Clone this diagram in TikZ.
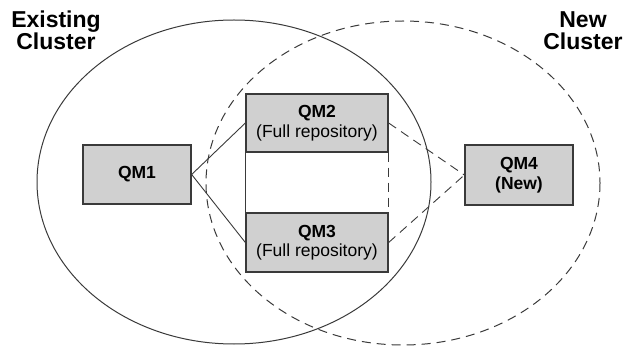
\documentclass[tikz,border=0pt]{standalone}
\usepackage{fontspec}
\setmainfont{Liberation Sans}
\definecolor{boxfill}{HTML}{D0D0D0}
\definecolor{linegray}{HTML}{3A3A3A}
\begin{document}
\begin{tikzpicture}[x=1pt,y=-1pt,
  qmbox/.style={draw=linegray,line width=1.3pt,fill=boxfill,align=center,inner sep=0pt,
    font=\fontsize{17.5}{19.5}\selectfont},
  clusterlabel/.style={align=center,inner sep=0pt,font=\fontsize{23}{22}\selectfont\bfseries},
  link/.style={draw=linegray,line width=0.9pt},
  dashlink/.style={draw=linegray,line width=0.9pt,dash pattern=on 9pt off 6pt},
  cluster/.style={draw=linegray,line width=1pt}]
\useasboundingbox (0,0) rectangle (626,347);
% clusters
\draw[cluster] (234,182) ellipse [x radius=197, y radius=162];
\draw[cluster,dash pattern=on 9pt off 6pt] (403,183) ellipse [x radius=197, y radius=162];
\node[clusterlabel,anchor=base] (existing) at (56,50) {Existing\\Cluster};
\node[clusterlabel,anchor=base] (new) at (583,50) {New\\Cluster};
% boxes
\node[qmbox,minimum width=108pt,minimum height=59pt] (qm1) at (137,174.5) {\bfseries QM1};
\node[qmbox,minimum width=142pt,minimum height=58pt] (qm2) at (317,123) {\bfseries QM2\\(Full repository)};
\node[qmbox,minimum width=142pt,minimum height=59pt] (qm3) at (317,242.5) {\bfseries QM3\\(Full repository)};
\node[qmbox,minimum width=108pt,minimum height=60pt] (qm4) at (519,175) {\bfseries QM4\\\bfseries (New)};
% connectors
\draw[link] (qm1.east) -- (qm2.west);
\draw[link] (qm1.east) -- (qm3.west);
\draw[link] (qm2.south west) -- (qm3.north west);
\draw[dashlink] (qm2.south east) -- (qm3.north east);
\draw[dashlink] (qm2.east) -- (qm4.west);
\draw[dashlink] (qm3.east) -- (qm4.west);
\end{tikzpicture}
\end{document}
